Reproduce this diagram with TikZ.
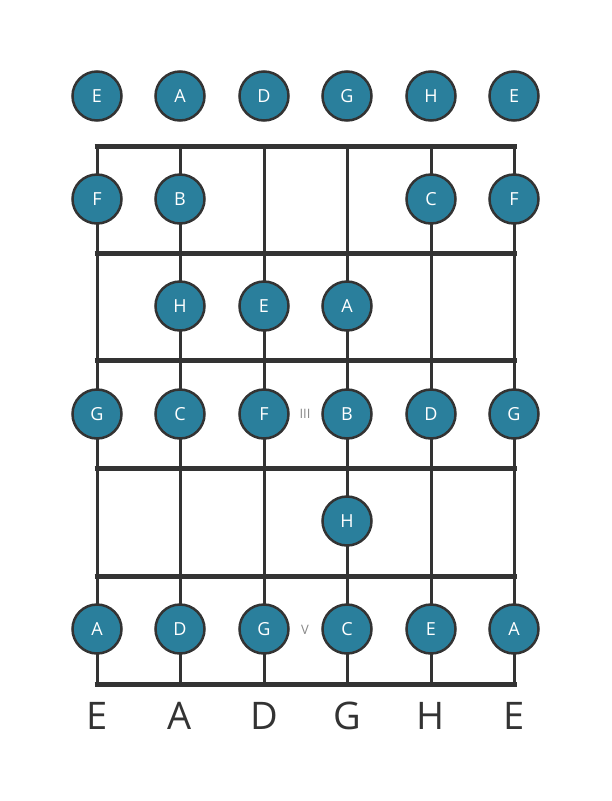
\documentclass[tikz,border=0pt]{standalone}
\usepackage{fontspec}
\setmainfont{Open Sans}
\definecolor{dotfill}{HTML}{2A7F9C}
\definecolor{linec}{HTML}{333333}
\definecolor{numc}{HTML}{888888}
\begin{document}
\begin{tikzpicture}[x=1pt,y=-1pt,
  fret/.style={draw=linec,line width=5pt},
  stringline/.style={draw=linec,line width=3pt},
  notedot/.style={circle,fill=dotfill,draw=linec,line width=2.5pt,minimum size=49pt,inner sep=0pt,text=white,font=\fontsize{18}{18}\selectfont},
  strlabel/.style={text=linec,font=\fontsize{38}{38}\selectfont,inner sep=0pt},
  posnum/.style={text=numc,font=\fontsize{13}{13}\selectfont,inner sep=0pt}]
\useasboundingbox (0,0) rectangle (611,801);
% strings
\foreach \x in {97,180,264,347,431,514}{
  \draw[stringline] (\x,146) -- (\x,684);
}
% frets
\foreach \y in {146,253,360,468,576,684}{
  \draw[fret] (94.5,\y) -- (516.5,\y);
}
% open strings
\node[notedot] (o1) at (97,96) {E};
\node[notedot] (o2) at (180,96) {A};
\node[notedot] (o3) at (264,96) {D};
\node[notedot] (o4) at (347,96) {G};
\node[notedot] (o5) at (431,96) {H};
\node[notedot] (o6) at (514,96) {E};
% fret 1
\node[notedot] (f1a) at (97,199) {F};
\node[notedot] (f1b) at (180,199) {B};
\node[notedot] (f1e) at (431,199) {C};
\node[notedot] (f1f) at (514,199) {F};
% fret 2
\node[notedot] (f2b) at (180,306) {H};
\node[notedot] (f2c) at (264,306) {E};
\node[notedot] (f2d) at (347,306) {A};
% fret 3
\node[notedot] (f3a) at (97,414) {G};
\node[notedot] (f3b) at (180,414) {C};
\node[notedot] (f3c) at (264,414) {F};
\node[notedot] (f3d) at (347,414) {B};
\node[notedot] (f3e) at (431,414) {D};
\node[notedot] (f3f) at (514,414) {G};
% fret 4
\node[notedot] (f4d) at (347,521) {H};
% fret 5
\node[notedot] (f5a) at (97,629) {A};
\node[notedot] (f5b) at (180,629) {D};
\node[notedot] (f5c) at (264,629) {G};
\node[notedot] (f5d) at (347,629) {C};
\node[notedot] (f5e) at (431,629) {E};
\node[notedot] (f5f) at (514,629) {A};
% position numerals
\node[posnum] (n3) at (305,414) {III};
\node[posnum] (n5) at (305,630) {V};
% string labels
\node[strlabel] (l1) at (97,716) {E};
\node[strlabel] (l2) at (180,716) {A};
\node[strlabel] (l3) at (264,716) {D};
\node[strlabel] (l4) at (347,716) {G};
\node[strlabel] (l5) at (431,716) {H};
\node[strlabel] (l6) at (514,716) {E};
\end{tikzpicture}
\end{document}
